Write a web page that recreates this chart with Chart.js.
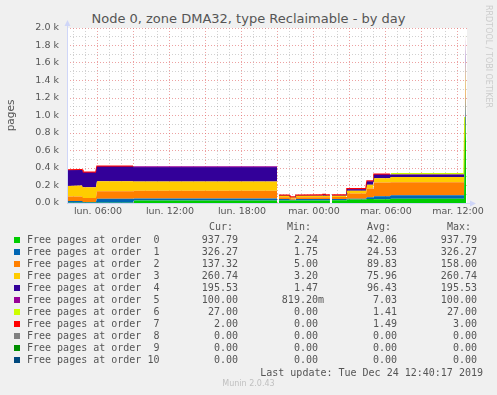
<!DOCTYPE html>
<html>
<head>
<meta charset="utf-8">
<script src="https://cdn.jsdelivr.net/npm/chart.js@4.4.1/dist/chart.umd.min.js"></script>
<style>
body { margin: 0; background: #f0f0f0; }
.wrap { position: relative; width: 497px; height: 395px; overflow: hidden; }
.plot { position: absolute; left: 0; top: 0; width: 497px; height: 230px; }
.title { position: absolute; left: 0; top: 11px; width: 497px; text-align: center; font: 13px 'DejaVu Sans'; color: #555; }
.mono { position: absolute; font-family: 'DejaVu Sans Mono', monospace; font-size: 10px; line-height: 12px; color: #555; white-space: pre; }
.box { position: absolute; width: 6px; height: 6px; }
.rrd { position: absolute; left: 484px; top: 5px; writing-mode: vertical-rl; font: 8px 'DejaVu Sans'; color: #ccc; }
.munin { position: absolute; left: 0; top: 379px; width: 497px; text-align: center; font: 8px 'DejaVu Sans'; color: #c0c0c0; }
</style>
</head>
<body>
<div class="wrap">
  <div class="title">Node 0, zone DMA32, type Reclaimable - by day</div>
  <div class="plot"><canvas class="chr"></canvas></div>
  <div class="rrd">RRDTOOL / TOBI OETIKER</div>
  <div class="legend"></div>
  <div class="mono" style="right:14px;top:367px">Last update: Tue Dec 24 12:40:17 2019</div>
  <div class="munin">Munin 2.0.43</div>
</div>
<script>
// sample times, hours since monday 00:00 (null = no data)
const hours = [3.42, 4.67, 4.75, 5.83, 5.92, 8.92, 9.0, 20.92, 21.0, 21.08, 21.92, 22.0, 22.42, 22.5, 24.67, 24.75,
  24.92, 25.0, 25.33, 25.42, 25.5, 26.67, 26.75, 28.33, 28.42, 28.92, 29.0, 30.33, 30.42, 36.5, 36.58, 36.67];

const order0 = [3, 3, 3, 3, 3, 3, 28, 28, null, 30, 30, 28, 28, 30, 30, 30,
  30, 30, 30, null, 32, 32, 40, 40, 45, 45, 44, 44, 50, 50, 700, 937.79];
const order1 = [20, 20, 8, 8, 45, 45, 23, 23, null, 15, 15, 8, 8, 15, 15, 15,
  15, 15, 15, null, 15, 15, 10, 10, 20, 20, 34, 34, 38, 38, 38, 326.27];
const order2 = [50, 50, 45, 45, 85, 85, 88, 88, null, 22, 22, 15, 15, 22, 22, 22,
  22, 22, 22, null, 22, 22, 60, 60, 100, 100, 155, 155, 148, 148, 148, 137.32];
const order3 = [120, 128, 125, 125, 115, 115, 106, 106, null, 15, 15, 12, 12, 15, 16, 16,
  16, 16, 16, null, 15, 15, 30, 30, 45, 45, 49, 49, 60, 60, 60, 260.74];
const order4 = [180, 175, 165, 165, 165, 165, 163, 163, null, 3, 3, 2, 2, 3, 3, 10,
  10, 3, 3, null, 3, 3, 18, 18, 35, 35, 40, 40, 28, 28, 28, 195.53];
const order5 = [2, 2, 2, 2, 3, 3, 4, 4, null, 2, 2, 1, 1, 2, 2, 2,
  2, 2, 2, null, 2, 2, 3, 3, 3, 3, 5, 5, 4, 4, 4, 100];
const order6 = [0, 0, 0, 0, 0, 0, 0, 0, null, 0, 0, 0, 0, 0, 0, 0,
  0, 0, 0, null, 0, 0, 0, 0, 0, 0, 0, 0, 6, 6, 6, 27];
const order7 = [3, 3, 3, 3, 3, 3, 0, 0, null, 3, 3, 2, 2, 3, 3, 3,
  3, 3, 3, null, 3, 3, 3, 3, 3, 3, 3, 3, 0, 0, 0, 2];
const order8 = [0, 0, 0, 0, 0, 0, 0, 0, null, 0, 0, 0, 0, 0, 0, 0,
  0, 0, 0, null, 0, 0, 0, 0, 0, 0, 0, 0, 0, 0, 0, 0];
const order9 = [0, 0, 0, 0, 0, 0, 0, 0, null, 0, 0, 0, 0, 0, 0, 0,
  0, 0, 0, null, 0, 0, 0, 0, 0, 0, 0, 0, 0, 0, 0, 0];
const order10 = [0, 0, 0, 0, 0, 0, 0, 0, null, 0, 0, 0, 0, 0, 0, 0,
  0, 0, 0, null, 0, 0, 0, 0, 0, 0, 0, 0, 0, 0, 0, 0];

const names = ['Free pages at order  0', 'Free pages at order  1', 'Free pages at order  2', 'Free pages at order  3',
  'Free pages at order  4', 'Free pages at order  5', 'Free pages at order  6', 'Free pages at order  7',
  'Free pages at order  8', 'Free pages at order  9', 'Free pages at order 10'];
const colors = ['#00CC00', '#0066B3', '#FF8000', '#FFCC00', '#330099', '#990099', '#CCFF00', '#FF0000',
  '#808080', '#008F00', '#00487D'];

const curVals = [937.79, 326.27, 137.32, 260.74, 195.53, 100.00, 27.00, 2.00, 0, 0, 0];
const minVals = [2.24, 1.75, 5.00, 3.20, 1.47, 0.8192, 0, 0, 0, 0, 0];
const avgVals = [42.06, 24.53, 89.83, 75.96, 96.43, 7.03, 1.41, 1.49, 0, 0, 0];
const maxVals = [937.79, 326.27, 158.00, 260.74, 195.53, 100.00, 27.00, 3.00, 0, 0, 0];

const xTickHours = [6, 12, 18, 24, 30, 36];
const xTickLabels = ['lun. 06:00', 'lun. 12:00', 'lun. 18:00', 'mar. 00:00', 'mar. 06:00', 'mar. 12:00'];

const series = [order0, order1, order2, order3, order4, order5, order6, order7, order8, order9, order10];
const minorGrid = 'rgba(140,140,140,0.4)';
const majorGrid = 'rgba(225,100,100,0.6)';
const none = 'rgba(0,0,0,0)';
const lastIdx = hours.length - 1;

// thin top lines for the tiny series (like rrdtool shows them), not on the final spike
function topLine(i) {
  if (i === 7) return c => (c.p1DataIndex < lastIdx && order7[c.p0DataIndex] > 0 && order7[c.p1DataIndex] > 0) ? colors[7] : none;
  if (i === 6) return c => (c.p1DataIndex < lastIdx && order6[c.p0DataIndex] > 0 && order6[c.p1DataIndex] > 0) ? colors[6] : none;
  if (i === 5) return c => (order6[c.p0DataIndex] === 0 && order7[c.p0DataIndex] === 0 &&
    order6[c.p1DataIndex] === 0 && order7[c.p1DataIndex] === 0) ? colors[5] : none;
  return null;
}

const datasets = series.map((vals, i) => {
  const seg = topLine(i);
  return {
    label: names[i],
    data: vals.map((v, j) => ({ x: hours[j], y: v })),
    backgroundColor: colors[i],
    borderColor: colors[i],
    borderWidth: seg ? 1.5 : 0,
    segment: seg ? { borderColor: seg } : {},
    fill: i === 0 ? 'origin' : '-1',
    pointRadius: 0,
    tension: 0
  };
});

const plotBg = {
  id: 'plotBg',
  beforeDraw(chart) {
    const { ctx, chartArea: a } = chart;
    ctx.save();
    ctx.fillStyle = '#ffffff';
    ctx.fillRect(a.left, a.top, a.right - a.left, a.bottom - a.top);
    ctx.restore();
  }
};

// rrdtool style axis lines with arrows
const axisArrows = {
  id: 'axisArrows',
  afterDraw(chart) {
    const { ctx, chartArea: a } = chart;
    const x0 = Math.round(a.left) + 0.5, y0 = Math.round(a.bottom) + 0.5;
    ctx.save();
    ctx.strokeStyle = '#CFD6F8';
    ctx.fillStyle = '#CFD6F8';
    ctx.lineWidth = 1;
    ctx.beginPath();
    ctx.moveTo(x0, y0); ctx.lineTo(a.right + 4, y0);
    ctx.moveTo(x0, y0); ctx.lineTo(x0, a.top - 3);
    ctx.stroke();
    ctx.beginPath();
    ctx.moveTo(a.right + 3, y0 - 3); ctx.lineTo(a.right + 9, y0); ctx.lineTo(a.right + 3, y0 + 3);
    ctx.fill();
    ctx.beginPath();
    ctx.moveTo(x0 - 3, a.top - 2); ctx.lineTo(x0, a.top - 8); ctx.lineTo(x0 + 3, a.top - 2);
    ctx.fill();
    ctx.restore();
  }
};

const tickFont = { family: 'DejaVu Sans', size: 9.5 };

const ct = document.querySelector('.chr');
new Chart(ct, {
  type: 'line',
  data: { datasets: datasets },
  options: {
    responsive: true,
    maintainAspectRatio: false,
    animation: false,
    layout: { padding: { left: 0, right: 30, top: 28, bottom: 0 } },
    plugins: {
      legend: { display: false },
      tooltip: { enabled: false }
    },
    scales: {
      x: {
        type: 'linear',
        min: 3.42,
        max: 36.75,
        z: 1,
        afterBuildTicks: s => {
          const t = [];
          for (let h = 4; h <= 36; h++) t.push({ value: h });
          s.ticks = t;
        },
        afterFit: s => { s.height = 27; },
        ticks: {
          autoSkip: false,
          maxRotation: 0,
          padding: 3,
          color: '#555',
          font: tickFont,
          callback: v => {
            const k = xTickHours.indexOf(v);
            return k >= 0 ? xTickLabels[k] : '';
          }
        },
        grid: {
          drawTicks: false,
          color: c => (c.tick && c.tick.value % 3 === 0) ? majorGrid : minorGrid
        },
        border: { display: false, dash: [1, 2] }
      },
      y: {
        stacked: true,
        min: 0,
        max: 2000,
        z: 1,
        afterFit: s => { s.width = 67; },
        ticks: {
          stepSize: 100,
          autoSkip: false,
          padding: 8,
          color: '#555',
          font: tickFont,
          callback: v => v % 200 === 0 ? (v / 1000).toFixed(1) + ' k' : ''
        },
        grid: {
          drawTicks: false,
          color: c => (c.tick && c.tick.value % 200 === 0) ? majorGrid : minorGrid
        },
        border: { display: false, dash: [1, 2] },
        title: {
          display: true,
          text: 'pages',
          color: '#555',
          font: { family: 'DejaVu Sans', size: 10.5 },
          padding: { top: 5, bottom: 0 }
        }
      }
    }
  },
  plugins: [plotBg, axisArrows]
});

// legend table below the graph
function fmt(v) {
  if (v > 0 && v < 1) return (v * 1000).toFixed(2) + 'm';
  return v.toFixed(2) + ' ';
}
const headLeft = [209, 287, 367, 447];
const colRight = [253, 173, 94, 14];
const cols = [curVals, minVals, avgVals, maxVals];
let html = '';
['Cur:', 'Min:', 'Avg:', 'Max:'].forEach((h, k) => {
  html += '<div class="mono" style="left:' + headLeft[k] + 'px;top:221px">' + h + '</div>';
});
names.forEach((name, i) => {
  const top = 234 + i * 12;
  html += '<div class="box" style="left:14px;top:' + (top + 3) + 'px;background:' + colors[i] + '"></div>';
  html += '<div class="mono" style="left:27px;top:' + top + 'px">' + name + '</div>';
  cols.forEach((col, k) => {
    html += '<div class="mono" style="right:' + colRight[k] + 'px;top:' + top + 'px">' + fmt(col[i]) + '</div>';
  });
});
document.querySelector('.legend').innerHTML = html;
</script>
</body>
</html>
